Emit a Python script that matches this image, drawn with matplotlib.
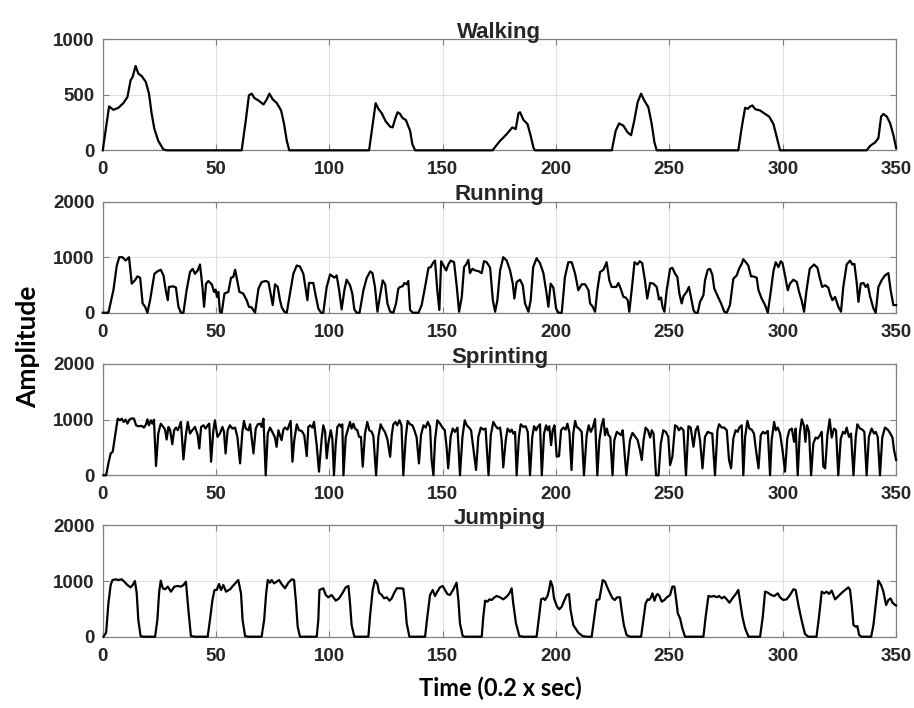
import matplotlib
matplotlib.use('Agg')
import matplotlib.pyplot as plt
import numpy as np

# (time, amplitude) breakpoints, one list per activity
walking = [
    (0, 0), (2.8, 394), (4.7, 364), (6.9, 382), (9.1, 424), (10.9, 479), (12.3, 630), (13.2, 660),
    (14.5, 758), (15.7, 690), (17.2, 667), (19, 615), (20.4, 509), (21.6, 327), (22.8, 191),
    (24.5, 85), (26.7, 9), (28.2, 0),
    (61.3, 0), (63.1, 267), (64.5, 494), (65.7, 509), (66.9, 470), (68.7, 448), (70.9, 412),
    (72.3, 455), (73.5, 509), (75, 458), (76.8, 424), (78.7, 358), (80, 236), (81.2, 85), (82.3, 0),
    (117.5, 0), (118.7, 176), (120.4, 424), (121.6, 373), (123.1, 333), (124.8, 261), (126.8, 212),
    (127.9, 206), (129, 282), (130.1, 342), (131.2, 327), (132.2, 291), (133.7, 273), (135.6, 176),
    (136.6, 55), (137.8, 0),
    (172, 0), (173.5, 40), (175.3, 85), (178.2, 145), (180.7, 206), (182.2, 191), (183.4, 333),
    (184.1, 342), (185.6, 273), (187.4, 236), (188.8, 130), (190, 24), (190.7, 0),
    (224.6, 0), (226.3, 176), (227.8, 242), (229.7, 221), (231.6, 160), (233.1, 136), (234.5, 267),
    (236, 433), (237.5, 509), (238.9, 448), (240.7, 388), (242.2, 236), (243.4, 70), (244.4, 0),
    (280.4, 0), (281.9, 206), (283.4, 382), (284.6, 373), (285.6, 394), (286.6, 403), (287.8, 370),
    (290, 358), (292.2, 327), (294, 303), (295.9, 236), (297.4, 115), (298.8, 0),
    (337, 0), (338.5, 39), (340.7, 70), (342.2, 109), (343.4, 303), (344.4, 327), (345.9, 303),
    (347.4, 242), (348.9, 130), (350, 20),
]

running = [
    (0, 0), (2.5, 0), (4.7, 405), (6.2, 850), (7.3, 1000), (8.7, 1000), (10.1, 940), (11.6, 1000),
    (12.8, 524), (14.2, 583), (15.3, 655), (16.5, 631), (17.6, 167), (18.7, 107), (19.7, 0),
    (20.9, 226), (22.8, 702), (24.3, 750), (25.6, 774), (26.8, 672), (27.8, 405), (28.7, 226),
    (29.2, 464), (31.1, 476), (32.3, 452), (33.4, 107), (34.5, 0), (35.6, 0), (37, 405), (38.5, 732),
    (39.7, 791), (40.7, 702), (41.9, 762), (42.9, 869), (44, 464), (44.7, 107), (45.6, 524),
    (46.6, 571), (48.1, 512), (49.1, 375), (49.8, 417), (50.4, 286), (51, 375), (51.7, 18), (52.5, 0),
    (53.7, 345), (55.4, 375), (56.6, 631), (57.6, 643), (58.4, 774), (59.1, 631), (60.3, 375),
    (62, 345), (63.5, 226), (64.5, 107), (65.7, 95), (67.2, 0), (68.7, 434), (70.1, 553), (71.9, 571),
    (73.1, 553), (74.3, 286), (75, 137), (76, 512), (77.2, 464), (78.2, 226), (79, 95), (80.1, 18),
    (81.2, 0), (82.6, 345), (84.1, 702), (85.6, 851), (87, 833), (88.5, 702), (89.5, 434), (90.3, 226),
    (91, 536), (92.9, 536), (94, 298), (95.1, 77), (96.3, 0), (97.3, 0), (98.8, 464), (100.3, 690),
    (102.2, 631), (103.2, 672), (104.3, 405), (105.4, 60), (106.6, 405), (107.6, 595), (109.1, 494),
    (110.1, 345), (111, 60), (112, 0), (113.3, 0), (115, 405), (116.5, 631), (118, 744), (119, 714),
    (120.1, 464), (121.2, 18), (122, 226), (123.5, 583), (124.6, 512), (125.6, 167), (126.8, 18),
    (128.2, 0), (129.4, 167), (130.4, 434), (131.2, 464), (132.3, 476), (133.1, 536), (134.1, 512),
    (134.8, 571), (135.6, 48), (136.8, 0), (139.3, 0), (140.7, 137), (142.2, 464), (143.7, 809),
    (144.7, 821), (145.9, 910), (146.6, 940), (147.6, 405), (148.5, 48), (149.3, 928), (150.3, 851),
    (151.5, 762), (152.5, 869), (153.5, 940), (155, 910), (156.2, 464), (157.2, 18), (158.4, 286),
    (159.4, 821), (160.3, 869), (161.3, 952), (162, 714), (163.1, 791), (164.3, 762), (165.7, 750),
    (167.2, 714), (168.2, 928), (169.4, 910), (170.9, 809), (172.1, 226), (173.1, 18), (174.1, 226),
    (175.3, 762), (176.7, 1000), (178.2, 940), (179.7, 762), (180.9, 524), (181.6, 256), (182.6, 553),
    (184.1, 595), (185.3, 494), (186.3, 167), (187.8, 18), (188.8, 226), (189.9, 821), (191.4, 982),
    (192.9, 893), (194.4, 714), (195.6, 405), (196.6, 107), (197.6, 524), (198.8, 452), (200, 77),
    (201, 0), (202.5, 0), (203.9, 643), (205.4, 910), (206.9, 910), (208.4, 702), (209.8, 405),
    (211.3, 512), (212.8, 512), (214.3, 405), (215, 167), (216, 119), (217.2, 18), (218.2, 405),
    (219.4, 732), (220.9, 774), (222.3, 910), (223.5, 583), (224.5, 464), (226.5, 464), (227.5, 536),
    (228.5, 434), (229.7, 286), (230.7, 274), (231.6, 226), (232.3, 18), (233.5, 464), (234.6, 910),
    (235.9, 869), (236.9, 928), (238, 893), (239.2, 583), (240.2, 256), (241.5, 536), (242.9, 524),
    (244.4, 464), (245.4, 238), (246.3, 274), (247, 95), (247.8, 18), (248.8, 405), (250.3, 791),
    (251.3, 809), (252.5, 702), (253.5, 643), (254.4, 345), (255.4, 167), (256.2, 298), (257.6, 375),
    (258.6, 464), (259.5, 286), (260.6, 48), (261.3, 0), (262.5, 0), (263.5, 196), (265, 315),
    (265.7, 583), (266.9, 774), (267.9, 791), (268.9, 690), (269.8, 434), (271.3, 298), (272.8, 167),
    (274.2, 18), (275.3, 0), (276.7, 137), (278.2, 613), (279.7, 672), (280.7, 791), (281.9, 881),
    (282.6, 964), (283.7, 910), (284.8, 851), (286, 655), (287, 655), (288.5, 631), (289.3, 405),
    (290.7, 256), (292.2, 137), (293.4, 0), (294.4, 286), (295.9, 750), (296.9, 910), (298.1, 821),
    (299.1, 928), (299.9, 893), (301, 672), (302.2, 405), (303.2, 524), (304.7, 595), (306.2, 553),
    (307.2, 375), (308.3, 226), (309.4, 18), (310.5, 405), (311.9, 791), (313.8, 869), (315.3, 809),
    (316.4, 613), (317.4, 464), (318.7, 494), (320.1, 452), (320.9, 333), (321.9, 226), (323.1, 286),
    (324.5, 107), (325.7, 18), (326.7, 464), (328.2, 869), (329.7, 940), (330.7, 869), (331.6, 881),
    (332.6, 553), (333.4, 196), (334.4, 524), (335.6, 536), (336.6, 464), (337.5, 512), (338.5, 298),
    (340, 77), (341, 0), (342.2, 464), (343.6, 583), (345.1, 672), (346.6, 714), (347.6, 405),
    (348.8, 137), (350, 137),
]

sprinting = [
    (0.3, 0), (1.5, 0), (2.5, 214), (3.5, 393), (4.4, 422), (5.4, 690), (6.6, 1017), (7.6, 988),
    (8.4, 1017), (9.2, 958), (10.1, 1000), (10.9, 928), (11.8, 1000), (12.8, 1023), (13.8, 1017),
    (14.7, 898), (15.7, 881), (17.2, 887), (18.2, 857), (19.1, 916), (19.7, 1006), (20.4, 898),
    (21.2, 988), (21.9, 928), (22.6, 1000), (23.5, 167), (24.5, 750), (25.6, 928), (26.7, 869),
    (27.5, 821), (28.2, 643), (29, 869), (29.7, 821), (30.7, 559), (31.5, 809), (32.3, 857),
    (33.1, 809), (33.7, 869), (34.5, 958), (35.6, 286), (36.6, 702), (37.5, 958), (38.5, 750),
    (39.5, 809), (40.7, 869), (41.9, 720), (42.6, 482), (43.4, 869), (44.4, 898), (45.4, 839),
    (46.3, 898), (47, 928), (47.8, 244), (48.8, 809), (49.5, 988), (50.6, 690), (51.7, 750),
    (52.8, 869), (53.5, 780), (54.2, 393), (55.1, 809), (56.1, 898), (57.2, 839), (58.4, 857),
    (59.4, 690), (60.6, 214), (61.6, 780), (62.3, 976), (63.1, 839), (64.3, 809), (65, 916),
    (65.7, 678), (66.5, 393), (67.5, 839), (68.4, 916), (69.4, 928), (70.1, 869), (70.9, 1017),
    (71.9, 0), (72.8, 750), (73.8, 857), (74.8, 780), (76, 678), (76.7, 512), (77.5, 809), (78.2, 720),
    (78.9, 631), (79.7, 821), (80.4, 857), (81.5, 821), (82.2, 898), (82.9, 976), (83.7, 244),
    (84.5, 631), (85.6, 916), (86.6, 809), (87.8, 797), (88.9, 720), (90, 345), (90.7, 869),
    (91.5, 898), (92.5, 857), (93.2, 958), (94.4, 541), (95.4, 65), (96.6, 660), (97.3, 898),
    (98.1, 780), (98.8, 303), (99.5, 571), (100.6, 809), (101.3, 660), (102, 0), (102.8, 571),
    (103.5, 869), (104.4, 916), (105.1, 869), (105.7, 916), (106.2, 0), (107.2, 690), (108.4, 857),
    (109.1, 958), (109.8, 839), (110.6, 928), (111.3, 839), (112.3, 809), (113.1, 690), (113.9, 690),
    (114.7, 155), (115.7, 750), (116.7, 958), (117.6, 809), (118.7, 780), (119.4, 702), (120.6, 0),
    (121.6, 690), (122.6, 916), (123.5, 839), (124.5, 780), (125.6, 643), (126.8, 333), (127.5, 720),
    (128.2, 916), (129.1, 958), (129.9, 898), (130.9, 988), (131.8, 898), (132.6, 0), (133.7, 690),
    (134.5, 976), (135.6, 916), (136.6, 898), (137.5, 809), (138.5, 678), (139.5, 214), (140.4, 720),
    (141.5, 898), (142.5, 857), (143.4, 958), (144.4, 869), (145.1, 274), (145.9, 0), (146.6, 631),
    (147.6, 988), (148.8, 928), (149.9, 857), (150.9, 809), (151.7, 512), (152.4, 125), (153.5, 690),
    (154.4, 839), (155.4, 780), (156.5, 857), (157.6, 0), (158.7, 690), (159.7, 988), (160.6, 898),
    (161.6, 857), (162.5, 809), (163.5, 482), (164.7, 95), (165.7, 690), (166.8, 857), (167.9, 821),
    (168.9, 839), (170.2, 0), (171.2, 720), (172.3, 958), (173.4, 881), (174.3, 839), (175.3, 857),
    (176, 631), (176.7, 143), (177.8, 631), (178.6, 839), (179.7, 780), (180.4, 821), (181.1, 750),
    (181.9, 780), (182.6, 0), (183.6, 690), (184.4, 916), (185.6, 869), (186.6, 881), (187.5, 780),
    (188.5, 0), (189.5, 690), (190.3, 881), (191.2, 809), (191.9, 869), (192.9, 916), (193.7, 0),
    (194.7, 750), (195.6, 898), (196.3, 809), (197, 881), (197.8, 541), (198.5, 809), (199.3, 898),
    (200.3, 333), (201.3, 345), (202.2, 809), (203.2, 857), (204.2, 821), (205, 928), (205.9, 762),
    (206.8, 95), (207.6, 750), (208.4, 976), (209.1, 869), (210.1, 839), (211.3, 780), (212.3, 0),
    (213.5, 720), (214.4, 898), (215.3, 780), (216.2, 857), (217.2, 1012), (218.2, 0), (219.1, 631),
    (220.1, 898), (220.9, 1012), (221.6, 720), (222.4, 839), (223.1, 720), (223.9, 690), (224.9, 0),
    (225.7, 631), (226.8, 780), (227.8, 750), (228.7, 720), (229.4, 809), (231, 0), (232.6, 631),
    (233.7, 762), (234.8, 702), (236, 631), (237, 452), (237.8, 274), (238.6, 631), (239.5, 857),
    (240.5, 809), (241.5, 678), (242.2, 809), (243, 750), (244.1, 0), (245.2, 0), (246.2, 571),
    (247.3, 809), (248.4, 780), (249.5, 690), (250.3, 184), (251.3, 333), (252.5, 898), (253.5, 869),
    (254.2, 809), (255.1, 857), (256.2, 809), (257.3, 0), (258.4, 881), (259.4, 857), (260.6, 512),
    (261.6, 809), (262.5, 881), (263.5, 631), (264.6, 125), (265.7, 690), (266.9, 780), (267.9, 762),
    (268.9, 750), (270.1, 0), (271.2, 809), (271.9, 916), (273.1, 857), (274.2, 857), (275.3, 809),
    (276.3, 274), (277.2, 125), (278.2, 660), (279.2, 809), (280.1, 780), (280.8, 857), (281.9, 898),
    (282.6, 0), (283.4, 690), (284.4, 976), (285.3, 839), (286.3, 821), (287.3, 750), (288.2, 452),
    (289.3, 125), (290.3, 720), (291.2, 780), (292.2, 750), (293.4, 797), (294.4, 0), (295.1, 631),
    (296.2, 958), (296.9, 809), (297.8, 857), (298.8, 750), (299.9, 452), (301, 65), (302, 660),
    (302.9, 809), (304, 839), (305, 601), (305.7, 839), (306.6, 0), (307.5, 750), (308.4, 1006),
    (309.4, 881), (310, 601), (310.7, 898), (311.6, 780), (312.5, 0), (313.5, 571), (314.5, 678),
    (315.4, 660), (316.4, 720), (317.2, 780), (317.9, 155), (318.7, 125), (319.7, 720), (320.7, 1006),
    (321.6, 678), (322.6, 839), (323.5, 809), (324.5, 0), (325.6, 660), (326.6, 780), (327.5, 750),
    (328.2, 857), (329.2, 690), (330.1, 750), (331.2, 0), (332.2, 690), (332.9, 916), (334.1, 839),
    (335.1, 821), (336, 780), (337, 0), (338, 690), (339.2, 839), (340.3, 750), (341, 780),
    (341.9, 690), (342.9, 0), (343.9, 678), (345.1, 857), (346.3, 821), (347.3, 762), (348.4, 678),
    (349.1, 452), (350, 274),
]

jumping = [
    (0.3, 0), (1.5, 72), (2.5, 599), (3.5, 928), (4.3, 1018), (5.7, 1030), (6.9, 1018), (8.4, 1030),
    (9.5, 988), (10.9, 928), (12.3, 886), (13.2, 928), (14.2, 1000), (15, 779), (15.7, 300),
    (16.7, 12), (17.9, 0), (23.1, 0), (24.1, 300), (24.9, 809), (25.6, 1006), (26.5, 869), (27.5, 851),
    (28.7, 899), (30.1, 809), (31.6, 899), (33.1, 911), (34.5, 899), (35.6, 928), (36.7, 988),
    (37.8, 479), (38.9, 12), (40.7, 0), (46.3, 0), (47.3, 300), (48.4, 659), (49.3, 839), (50.3, 839),
    (51.3, 946), (52.2, 839), (53.2, 928), (54.4, 809), (56.2, 851), (57.4, 911), (58.7, 970),
    (59.8, 1018), (61, 779), (61.7, 300), (62.8, 12), (64.2, 0), (70.1, 0), (71.2, 300), (72.1, 779),
    (72.8, 1018), (73.8, 970), (74.5, 1018), (75.6, 958), (76.7, 988), (77.8, 1018), (78.9, 946),
    (80.4, 869), (81.9, 970), (83.4, 1030), (84.4, 1018), (85.3, 599), (86, 180), (87, 0), (94.4, 0),
    (95.1, 300), (95.6, 839), (97.3, 869), (98.4, 749), (99.5, 707), (101, 749), (102.8, 647),
    (104.3, 689), (105.7, 779), (107.2, 886), (108.4, 911), (109.1, 599), (109.8, 210), (111, 0),
    (117.2, 0), (117.9, 359), (119.1, 839), (120.1, 1018), (121.2, 946), (121.9, 791), (123.1, 749),
    (124.1, 689), (125.3, 707), (126.5, 647), (127.5, 689), (128.5, 779), (129.7, 869), (131.2, 869),
    (132.6, 863), (133.4, 599), (134.1, 240), (135.3, 0), (142.2, 0), (143.2, 359), (144.4, 749),
    (145.6, 839), (146.6, 731), (147.6, 809), (148.8, 886), (150, 911), (151, 839), (152, 767),
    (153.2, 749), (154.7, 851), (156.1, 970), (156.9, 659), (157.6, 240), (158.8, 12), (159.8, 0),
    (167.2, 0), (167.9, 359), (168.7, 647), (169.7, 629), (170.6, 671), (171.6, 659), (172.8, 707),
    (173.8, 731), (175.3, 707), (176.7, 671), (178.2, 719), (179.4, 779), (180.4, 869), (181.1, 599),
    (182.3, 240), (183.8, 12), (185.6, 0), (191.4, 0), (192.5, 359), (193.4, 671), (194.4, 689),
    (195.1, 659), (196.2, 731), (196.9, 839), (197.6, 1000), (198.4, 911), (199.1, 689), (200.3, 551),
    (201.4, 491), (202.5, 539), (203.7, 659), (204.7, 749), (205.7, 767), (206.4, 479), (207.6, 210),
    (209.8, 72), (211.7, 12), (213.5, 0), (215.7, 0), (216.9, 359), (217.9, 659), (219.1, 671),
    (219.7, 809), (220.6, 1018), (221.6, 988), (222.6, 886), (223.8, 779), (224.9, 689), (225.9, 659),
    (226.9, 707), (228.2, 707), (228.9, 479), (229.9, 210), (231.1, 30), (232.6, 0), (237.5, 0),
    (238.5, 300), (239.5, 599), (240.4, 671), (241, 659), (241.9, 707), (242.5, 779), (243.4, 647),
    (244.1, 731), (244.8, 767), (245.6, 731), (246.6, 629), (247.8, 659), (248.8, 707), (250.3, 749),
    (251.3, 899), (252.2, 899), (252.9, 689), (253.7, 419), (254.7, 329), (255.7, 150), (256.9, 0),
    (265, 0), (266, 359), (267.2, 731), (268.3, 719), (269.7, 731), (270.9, 707), (271.9, 731),
    (273.1, 689), (274.2, 719), (275.3, 671), (276.5, 611), (277.8, 689), (279.3, 767), (280.4, 839),
    (281.2, 629), (282.2, 359), (283.4, 150), (284.9, 0), (290, 0), (291.2, 359), (292.2, 809),
    (293.4, 791), (294.9, 749), (296.3, 731), (297.8, 779), (298.8, 707), (300.2, 659), (301.7, 671),
    (303.2, 749), (304.7, 851), (305.7, 839), (306.9, 569), (308.3, 300), (309.8, 48), (311.3, 0),
    (314.9, 0), (316, 359), (317.2, 809), (318.3, 779), (319.4, 809), (320.4, 767), (321.6, 827),
    (323.1, 671), (324.6, 731), (326.1, 791), (327.5, 839), (329, 886), (329.7, 839), (330.5, 539),
    (331.2, 210), (332.2, 180), (332.9, 192), (333.7, 30), (334.8, 0), (339, 0), (340, 210),
    (341, 569), (342.2, 1006), (343.4, 928), (344.4, 809), (345.6, 569), (346.6, 659), (347.6, 689),
    (348.4, 611), (349.6, 569), (350, 560),
]

titles = ['Walking', 'Running', 'Sprinting', 'Jumping']
series = [walking, running, sprinting, jumping]
y_ticks = [[0, 500, 1000], [0, 1000, 2000], [0, 1000, 2000], [0, 1000, 2000]]
x_ticks = list(range(0, 351, 50))

plt.rcParams['font.family'] = ['Liberation Sans', 'DejaVu Sans']

fig = plt.figure(figsize=(9.14, 7.08), dpi=100)

# axes boxes in figure fractions (left, bottom, width, height)
boxes = [
    [0.1124, 0.7877, 0.868, 0.1572],
    [0.1124, 0.5583, 0.868, 0.1568],
    [0.1124, 0.3287, 0.868, 0.1572],
    [0.1124, 0.1007, 0.868, 0.1573],
]

for box, name, data, yt in zip(boxes, titles, series, y_ticks):
    ax = fig.add_axes(box)
    t, amp = np.array(data, dtype=float).T
    ax.plot(t, amp, color='black', lw=1.6, clip_on=False, zorder=5)
    ax.set_xlim(0, 350)
    ax.set_ylim(yt[0], yt[-1])
    ax.set_xticks(x_ticks)
    ax.set_yticks(yt)
    ax.grid(True, color='#e1e1e1', lw=0.8)
    ax.set_axisbelow(True)
    for sp in ax.spines.values():
        sp.set_color('#808080')
        sp.set_linewidth(0.9)
    ax.tick_params(direction='in', top=True, right=True, length=4, width=0.8,
                   color='#808080', labelcolor='#262626', labelsize=13.5)
    ax.tick_params(axis='x', pad=8)
    ax.tick_params(axis='y', pad=6)
    for lab in ax.get_xticklabels() + ax.get_yticklabels():
        lab.set_fontweight('bold')
    ax.set_title(name, fontsize=16, fontweight='bold', color='#262626', pad=1)

fig.text(0.031, 0.51, 'Amplitude', rotation=90, ha='center', va='center',
         fontsize=19, fontweight='bold', family=['Lato', 'DejaVu Sans'])
fig.text(0.547, 0.028, 'Time (0.2 x sec)', ha='center', va='center',
         fontsize=17, fontweight='bold', family=['Lato', 'DejaVu Sans'])

fig.savefig('out.png', dpi=100)
